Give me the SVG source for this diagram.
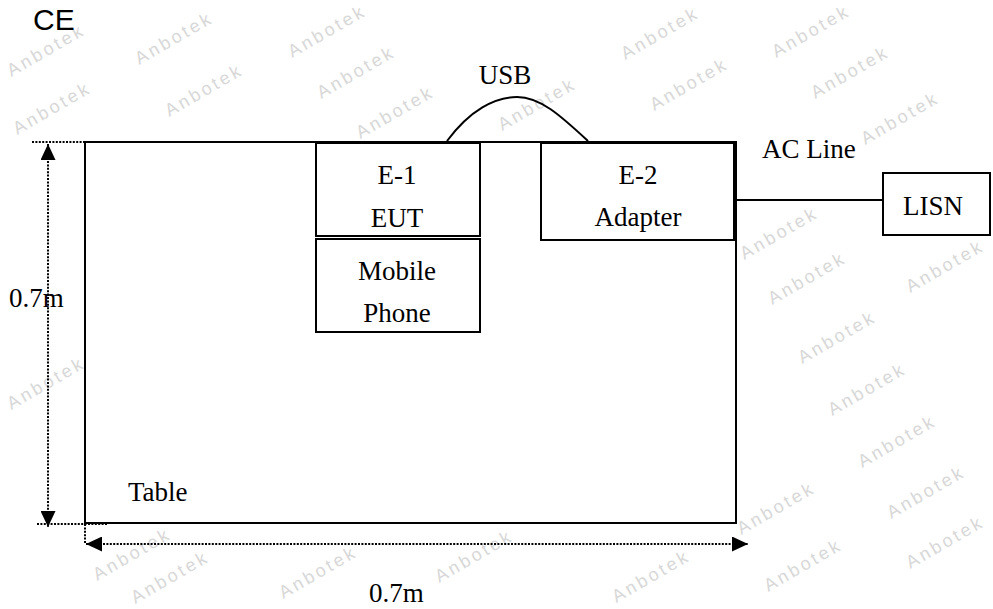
<svg xmlns="http://www.w3.org/2000/svg" width="993" height="609" viewBox="0 0 993 609">
  <style>
    .wm { font-family: "Liberation Sans", Arial, sans-serif; font-size: 18px; letter-spacing: 3px; fill: #d8d8d8; text-anchor: middle; }
    .lbl { font-family: "Liberation Serif", "Times New Roman", serif; font-size: 27px; fill: #000; }
    .mid { text-anchor: middle; }
    .box { fill: #fff; stroke: #000; stroke-width: 2; }
    .wire { fill: none; stroke: #000; stroke-width: 2; }
    .dim { fill: none; stroke: #000; stroke-width: 2; stroke-dasharray: 2 1.4; }
  </style>
  <defs>
    <marker id="head" viewBox="0 0 16 15" refX="16" refY="7.5" markerWidth="16" markerHeight="15" markerUnits="userSpaceOnUse" orient="auto-start-reverse">
      <path d="M0,0 L16,7.5 L0,15 Z" fill="#000"/>
    </marker>
  </defs>

  <rect width="993" height="609" fill="#fff"/>

  <!-- background stamp text -->
  <g id="watermark">
    <g transform="translate(46,50) rotate(-30)"><text class="wm" y="6">Anbotek</text></g>
    <g transform="translate(174,38) rotate(-30)"><text class="wm" y="6">Anbotek</text></g>
    <g transform="translate(327,31) rotate(-30)"><text class="wm" y="6">Anbotek</text></g>
    <g transform="translate(52,108) rotate(-30)"><text class="wm" y="6">Anbotek</text></g>
    <g transform="translate(204,90) rotate(-30)"><text class="wm" y="6">Anbotek</text></g>
    <g transform="translate(356,72) rotate(-30)"><text class="wm" y="6">Anbotek</text></g>
    <g transform="translate(395,112) rotate(-30)"><text class="wm" y="6">Anbotek</text></g>
    <g transform="translate(537,104) rotate(-30)"><text class="wm" y="6">Anbotek</text></g>
    <g transform="translate(660,33) rotate(-30)"><text class="wm" y="6">Anbotek</text></g>
    <g transform="translate(811,31) rotate(-30)"><text class="wm" y="6">Anbotek</text></g>
    <g transform="translate(689,84) rotate(-30)"><text class="wm" y="6">Anbotek</text></g>
    <g transform="translate(850,72) rotate(-30)"><text class="wm" y="6">Anbotek</text></g>
    <g transform="translate(900,118) rotate(-30)"><text class="wm" y="6">Anbotek</text></g>
    <g transform="translate(779,233) rotate(-30)"><text class="wm" y="6">Anbotek</text></g>
    <g transform="translate(807,278) rotate(-30)"><text class="wm" y="6">Anbotek</text></g>
    <g transform="translate(945,266) rotate(-30)"><text class="wm" y="6">Anbotek</text></g>
    <g transform="translate(837,337) rotate(-30)"><text class="wm" y="6">Anbotek</text></g>
    <g transform="translate(867,389) rotate(-30)"><text class="wm" y="6">Anbotek</text></g>
    <g transform="translate(897,441) rotate(-30)"><text class="wm" y="6">Anbotek</text></g>
    <g transform="translate(776,508) rotate(-30)"><text class="wm" y="6">Anbotek</text></g>
    <g transform="translate(926,492) rotate(-30)"><text class="wm" y="6">Anbotek</text></g>
    <g transform="translate(945,542) rotate(-30)"><text class="wm" y="6">Anbotek</text></g>
    <g transform="translate(46,383) rotate(-30)"><text class="wm" y="6">Anbotek</text></g>
    <g transform="translate(132,554) rotate(-30)"><text class="wm" y="6">Anbotek</text></g>
    <g transform="translate(474,556) rotate(-30)"><text class="wm" y="6">Anbotek</text></g>
    <g transform="translate(170,577) rotate(-30)"><text class="wm" y="6">Anbotek</text></g>
    <g transform="translate(318,572) rotate(-30)"><text class="wm" y="6">Anbotek</text></g>
    <g transform="translate(651,576) rotate(-30)"><text class="wm" y="6">Anbotek</text></g>
    <g transform="translate(803,565) rotate(-30)"><text class="wm" y="6">Anbotek</text></g>
  </g>

  <text x="33" y="30" font-family="Liberation Sans, Arial, sans-serif" font-size="30">CE</text>

  <!-- table outline -->
  <g id="table">
    <rect class="box" x="85" y="142" width="651" height="381" stroke-width="1.8"/>
    <text class="lbl" x="128" y="501">Table</text>
  </g>

  <g id="eut">
    <rect class="box" x="316" y="143" width="164" height="93"/>
    <text class="lbl mid" x="397" y="184">E-1</text>
    <text class="lbl mid" x="397" y="227">EUT</text>
  </g>

  <g id="phone">
    <rect class="box" x="316" y="239" width="164" height="93"/>
    <text class="lbl mid" x="397" y="280">Mobile</text>
    <text class="lbl mid" x="397" y="322">Phone</text>
  </g>

  <g id="adapter">
    <rect class="box" x="541" y="143" width="193" height="97"/>
    <text class="lbl mid" x="638" y="184">E-2</text>
    <text class="lbl mid" x="638" y="226">Adapter</text>
  </g>

  <g id="lisn">
    <rect class="box" x="883" y="173" width="107" height="62"/>
    <text class="lbl" x="903" y="215">LISN</text>
  </g>

  <g id="connectors">
    <path id="usb" class="wire" d="M447,141 C470,110 495,97 517,97 C540,97 560,115 588,141"/>
    <text class="lbl mid" x="505" y="84">USB</text>
    <line id="ac-line" class="wire" x1="737" y1="200" x2="883" y2="200"/>
    <text class="lbl" x="762" y="158">AC Line</text>
  </g>

  <!-- dimension lines -->
  <g id="dimensions">
    <line class="dim" x1="32" y1="142" x2="85" y2="142"/>
    <line class="dim" x1="37" y1="524" x2="107" y2="524"/>
    <line class="dim" x1="85" y1="524" x2="85" y2="543"/>
    <line class="dim" x1="48" y1="144" x2="48" y2="527" marker-start="url(#head)" marker-end="url(#head)"/>
    <line class="dim" x1="86" y1="544" x2="748" y2="544" marker-start="url(#head)" marker-end="url(#head)"/>
    <text class="lbl" x="9" y="307">0.7m</text>
    <text class="lbl" x="369" y="602">0.7m</text>
  </g>
</svg>
